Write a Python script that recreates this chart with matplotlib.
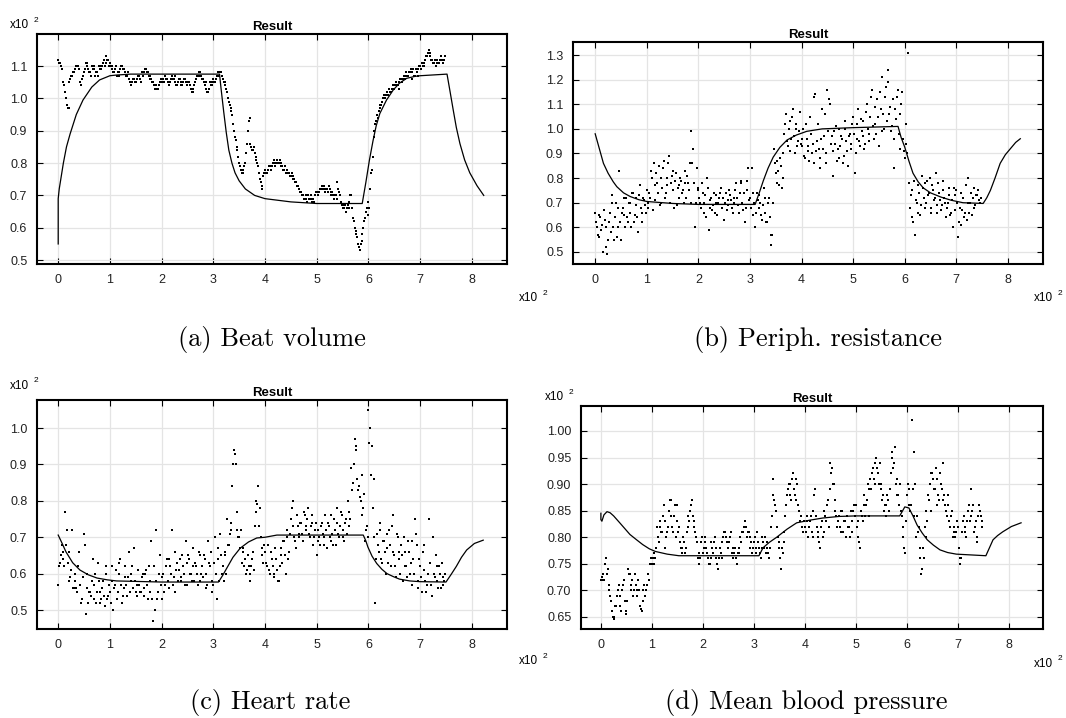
import numpy as np
import matplotlib
matplotlib.use("Agg")
import matplotlib.pyplot as plt

# measured samples, 30 per x-unit (x10^2), from 0 to 7.5
beat_pts = [
    1.12, 1.11, 1.09, 1.05, 1.02, 0.98, 0.97, 1.06, 1.07, 1.08, 1.09, 1.10, 1.09, 1.04, 1.06,
    1.08, 1.11, 1.10, 1.08, 1.07, 1.09, 1.10, 1.08, 1.07, 1.10, 1.09, 1.11, 1.10, 1.13, 1.12,
    1.11, 1.10, 1.08, 1.09, 1.07, 1.08, 1.09, 1.10, 1.09, 1.08, 1.07, 1.06, 1.04, 1.05, 1.06,
    1.05, 1.06, 1.07, 1.05, 1.07, 1.08, 1.09, 1.08, 1.07, 1.06, 1.05, 1.03, 1.04, 1.03, 1.05,
    1.05, 1.06, 1.07, 1.06, 1.04, 1.05, 1.07, 1.06, 1.05, 1.04, 1.06, 1.05, 1.04, 1.06, 1.05,
    1.04, 1.05, 1.03, 1.02, 1.04, 1.06, 1.07, 1.08, 1.07, 1.06, 1.04, 1.03, 1.02, 1.05, 1.04,
    1.06, 1.05, 1.07, 1.08, 1.08, 1.07, 1.05, 1.04, 1.02, 0.99, 0.97, 0.95, 0.90, 0.87, 0.84,
    0.80, 0.78, 0.77, 0.79, 0.83, 0.90, 0.94, 0.85, 0.84, 0.83, 0.81, 0.79, 0.75, 0.73, 0.76,
    0.78, 0.77, 0.78, 0.79, 0.79, 0.80, 0.79, 0.81, 0.80, 0.80, 0.79, 0.78, 0.77, 0.78, 0.77,
    0.76, 0.76, 0.75, 0.74, 0.73, 0.72, 0.71, 0.70, 0.69, 0.69, 0.70, 0.69, 0.68, 0.69, 0.70,
    0.71, 0.70, 0.72, 0.73, 0.72, 0.71, 0.72, 0.73, 0.70, 0.71, 0.69, 0.70, 0.74, 0.71, 0.68,
    0.67, 0.66, 0.65, 0.67, 0.68, 0.70, 0.63, 0.60, 0.58, 0.55, 0.53, 0.56, 0.60, 0.63, 0.66,
    0.68, 0.72, 0.78, 0.88, 0.92, 0.95, 0.96, 0.98, 0.99, 1.01, 1.01, 1.02, 1.03, 1.02, 1.04,
    1.03, 1.05, 1.04, 1.03, 1.06, 1.06, 1.07, 1.08, 1.07, 1.08, 1.06, 1.09, 1.07, 1.08, 1.07,
    1.10, 1.11, 1.10, 1.12, 1.13, 1.15, 1.14, 1.12, 1.11, 1.10, 1.12, 1.11, 1.13, 1.12, 1.12,
]
# the samples that lie between the ones above
beat_pts_mid = [
    1.11, 1.10, 1.05, 1.04, 1.00, 0.97, 1.05, 1.07, 1.08, 1.09, 1.10, 1.10, 1.05, 1.04, 1.07,
    1.09, 1.11, 1.09, 1.08, 1.10, 1.09, 1.07, 1.08, 1.10, 1.09, 1.10, 1.12, 1.11, 1.12, 1.10,
    1.10, 1.09, 1.08, 1.10, 1.08, 1.07, 1.10, 1.09, 1.08, 1.07, 1.08, 1.05, 1.05, 1.06, 1.05,
    1.06, 1.07, 1.06, 1.08, 1.08, 1.09, 1.08, 1.07, 1.06, 1.05, 1.04, 1.04, 1.03, 1.04, 1.06,
    1.06, 1.05, 1.06, 1.05, 1.05, 1.06, 1.06, 1.07, 1.04, 1.05, 1.06, 1.04, 1.05, 1.06, 1.04,
    1.05, 1.04, 1.02, 1.03, 1.05, 1.07, 1.08, 1.07, 1.06, 1.05, 1.05, 1.02, 1.03, 1.04, 1.05,
    1.05, 1.06, 1.08, 1.07, 1.08, 1.06, 1.05, 1.03, 1.00, 0.98, 0.96, 0.92, 0.88, 0.85, 0.82,
    0.79, 0.77, 0.78, 0.80, 0.86, 0.93, 0.86, 0.84, 0.85, 0.82, 0.80, 0.77, 0.74, 0.72, 0.77,
    0.77, 0.78, 0.79, 0.78, 0.80, 0.81, 0.80, 0.80, 0.81, 0.79, 0.78, 0.79, 0.78, 0.77, 0.76,
    0.77, 0.75, 0.74, 0.73, 0.72, 0.71, 0.70, 0.69, 0.70, 0.68, 0.69, 0.70, 0.69, 0.68, 0.71,
    0.70, 0.71, 0.72, 0.72, 0.73, 0.72, 0.71, 0.72, 0.71, 0.70, 0.70, 0.69, 0.72, 0.70, 0.67,
    0.66, 0.67, 0.66, 0.66, 0.70, 0.66, 0.62, 0.59, 0.57, 0.54, 0.55, 0.58, 0.62, 0.65, 0.64,
    0.66, 0.77, 0.82, 0.90, 0.93, 0.94, 0.97, 0.98, 1.00, 1.00, 1.02, 1.01, 1.02, 1.03, 1.03,
    1.04, 1.04, 1.05, 1.06, 1.05, 1.07, 1.06, 1.07, 1.08, 1.09, 1.08, 1.07, 1.09, 1.09, 1.10,
    1.09, 1.10, 1.11, 1.13, 1.14, 1.13, 1.12, 1.11, 1.12, 1.11, 1.11, 1.12, 1.12, 1.11, 1.13,
]
beat_curve_x = [0, 0, 0.02, 0.05, 0.1, 0.16, 0.23, 0.35, 0.48, 0.65, 0.8, 1.0, 1.12, 1.4, 2.0,
                3.12, 3.15, 3.2, 3.25, 3.3, 3.36, 3.42, 3.5, 3.62, 3.8, 4.0, 4.5, 5.0, 5.88, 5.95,
                6.02, 6.09, 6.15, 6.22, 6.35, 6.48, 6.6, 6.74, 6.9, 7.0, 7.52, 7.58, 7.64, 7.7,
                7.77, 7.86, 7.96, 8.1, 8.23]
beat_curve_y = [0.55, 0.69, 0.72, 0.75, 0.80, 0.85, 0.89, 0.95, 0.995, 1.035, 1.057, 1.07, 1.072,
                1.075, 1.075, 1.075, 1.03, 0.96, 0.895, 0.84, 0.80, 0.77, 0.745, 0.72, 0.70, 0.69,
                0.68, 0.675, 0.675, 0.74, 0.81, 0.87, 0.915, 0.953, 0.995, 1.026, 1.047, 1.062,
                1.068, 1.07, 1.075, 1.02, 0.964, 0.91, 0.86, 0.81, 0.77, 0.73, 0.70]

resist_pts = [
    0.66, 0.60, 0.56, 0.64, 0.61, 0.67, 0.52, 0.49, 0.62, 0.58, 0.73, 0.55, 0.70, 0.60, 0.83,
    0.55, 0.68, 0.65, 0.72, 0.62, 0.70, 0.60, 0.74, 0.65, 0.72, 0.58, 0.77, 0.66, 0.72, 0.69,
    0.75, 0.68, 0.72, 0.80, 0.86, 0.71, 0.78, 0.85, 0.70, 0.76, 0.87, 0.74, 0.80, 0.89, 0.78,
    0.83, 0.68, 0.82, 0.76, 0.72, 0.79, 0.75, 0.83, 0.72, 0.78, 0.86, 0.99, 0.92, 0.60, 0.84,
    0.75, 0.70, 0.78, 0.66, 0.73, 0.80, 0.59, 0.71, 0.67, 0.74, 0.70, 0.65, 0.72, 0.76, 0.68,
    0.63, 0.74, 0.69, 0.75, 0.71, 0.66, 0.72, 0.78, 0.69, 0.74, 0.79, 0.67, 0.62, 0.75, 0.84,
    0.72, 0.84, 0.65, 0.60, 0.74, 0.68, 0.70, 0.63, 0.76, 0.66, 0.62, 0.72, 0.53, 0.57, 0.92,
    0.82, 0.87, 0.77, 0.85, 0.80, 0.98, 1.06, 0.93, 1.03, 0.96, 1.08, 0.90, 1.00, 0.95, 1.07,
    0.93, 1.00, 0.88, 0.96, 0.91, 1.05, 0.90, 0.86, 1.14, 0.95, 0.92, 0.84, 1.08, 0.97, 0.90,
    1.16, 1.12, 0.94, 0.81, 0.99, 1.01, 0.92, 0.88, 0.97, 0.86, 1.03, 0.95, 0.85, 0.98, 0.92,
    1.05, 0.82, 0.96, 1.08, 0.93, 0.99, 1.03, 0.94, 1.10, 0.98, 1.05, 1.16, 0.96, 1.02, 1.12,
    0.93, 1.08, 1.21, 1.00, 1.17, 1.24, 1.06, 0.99, 1.12, 0.84, 1.04, 1.16, 0.92, 1.10, 0.96,
    0.88, 0.94, 1.31, 0.68, 0.75, 0.62, 0.57, 0.70, 0.77, 0.65, 0.81, 0.72, 0.68, 0.79, 0.74,
    0.66, 0.77, 0.71, 0.82, 0.69, 0.74, 0.67, 0.79, 0.72, 0.64, 0.70, 0.76, 0.66, 0.60, 0.73,
    0.75, 0.56, 0.68, 0.61, 0.72, 0.66, 0.63, 0.80, 0.70, 0.65, 0.76, 0.69, 0.73, 0.71, 0.70,
]
resist_pts_mid = [
    0.62, 0.57, 0.65, 0.59, 0.50, 0.63, 0.60, 0.55, 0.66, 0.70, 0.60, 0.64, 0.56, 0.68, 0.62,
    0.66, 0.72, 0.60, 0.64, 0.70, 0.66, 0.74, 0.62, 0.69, 0.64, 0.73, 0.68, 0.62, 0.71, 0.66,
    0.70, 0.74, 0.83, 0.67, 0.77, 0.82, 0.74, 0.69, 0.80, 0.84, 0.72, 0.77, 0.86, 0.70, 0.81,
    0.75, 0.79, 0.69, 0.77, 0.80, 0.74, 0.70, 0.78, 0.81, 0.75, 0.70, 0.86, 0.78, 0.70, 0.76,
    0.72, 0.68, 0.74, 0.70, 0.64, 0.76, 0.68, 0.72, 0.69, 0.66, 0.73, 0.70, 0.74, 0.68, 0.72,
    0.70, 0.67, 0.71, 0.73, 0.68, 0.70, 0.75, 0.72, 0.66, 0.78, 0.70, 0.74, 0.68, 0.79, 0.71,
    0.68, 0.74, 0.70, 0.66, 0.71, 0.73, 0.65, 0.69, 0.72, 0.62, 0.70, 0.64, 0.57, 0.70, 0.86,
    0.78, 0.83, 0.88, 0.76, 0.90, 1.02, 0.95, 1.00, 0.91, 1.05, 0.97, 1.02, 0.93, 0.99, 0.94,
    0.96, 0.89, 1.02, 0.93, 0.87, 0.98, 0.94, 1.13, 0.91, 1.02, 0.88, 0.96, 0.92, 1.06, 0.86,
    0.99, 1.10, 0.97, 0.91, 0.94, 0.87, 1.00, 0.93, 0.96, 0.89, 1.00, 0.91, 0.97, 0.94, 1.02,
    0.98, 0.90, 1.02, 0.95, 1.04, 0.97, 0.92, 1.07, 1.00, 0.95, 1.13, 1.01, 1.09, 0.98, 1.05,
    1.15, 0.99, 1.06, 1.13, 1.03, 1.19, 1.09, 1.01, 0.96, 1.08, 1.13, 0.98, 1.06, 1.15, 0.91,
    1.02, 0.90, 0.78, 0.73, 0.64, 0.79, 0.71, 0.66, 0.74, 0.69, 0.76, 0.78, 0.70, 0.73, 0.80,
    0.68, 0.75, 0.72, 0.66, 0.78, 0.71, 0.69, 0.75, 0.70, 0.68, 0.73, 0.65, 0.71, 0.76, 0.67,
    0.70, 0.62, 0.74, 0.67, 0.64, 0.77, 0.70, 0.66, 0.74, 0.72, 0.68, 0.73, 0.75, 0.70, 0.72,
]
resist_curve_x = [0, 0.08, 0.16, 0.25, 0.35, 0.42, 0.55, 0.68, 0.85, 1.0, 1.5, 2.0, 3.1, 3.18,
                  3.26, 3.35, 3.45, 3.58, 3.72, 3.9, 4.1, 4.4, 5.0, 5.87, 5.93, 6.0, 6.08, 6.16,
                  6.26, 6.36, 6.5, 6.7, 6.9, 7.13, 7.52, 7.59, 7.66, 7.75, 7.85, 7.95, 8.05, 8.15,
                  8.24]
resist_curve_y = [0.98, 0.92, 0.86, 0.82, 0.785, 0.765, 0.74, 0.725, 0.712, 0.705, 0.697, 0.693,
                  0.693, 0.74, 0.79, 0.84, 0.885, 0.925, 0.955, 0.975, 0.99, 1.0, 1.005, 1.01,
                  0.965, 0.926, 0.87, 0.82, 0.785, 0.76, 0.74, 0.723, 0.71, 0.70, 0.697, 0.72,
                  0.75, 0.80, 0.86, 0.895, 0.92, 0.945, 0.96]

rate_pts = [
    0.57, 0.63, 0.68, 0.64, 0.77, 0.72, 0.66, 0.59, 0.72, 0.56, 0.58, 0.55, 0.66, 0.52, 0.53,
    0.71, 0.49, 0.60, 0.55, 0.54, 0.64, 0.57, 0.52, 0.63, 0.55, 0.53, 0.58, 0.51, 0.62, 0.54,
    0.55, 0.62, 0.50, 0.57, 0.53, 0.60, 0.64, 0.52, 0.56, 0.59, 0.54, 0.66, 0.58, 0.62, 0.67,
    0.55, 0.54, 0.57, 0.55, 0.60, 0.56, 0.61, 0.53, 0.58, 0.69, 0.47, 0.50, 0.72, 0.55, 0.65,
    0.53, 0.60, 0.57, 0.64, 0.56, 0.62, 0.72, 0.59, 0.55, 0.63, 0.61, 0.58, 0.65, 0.60, 0.69,
    0.57, 0.64, 0.60, 0.67, 0.58, 0.62, 0.57, 0.65, 0.60, 0.59, 0.64, 0.56, 0.69, 0.62, 0.58,
    0.57, 0.70, 0.53, 0.64, 0.71, 0.60, 0.58, 0.65, 0.75, 0.68, 0.72, 0.84, 0.94, 0.90, 0.77,
    0.70, 0.72, 0.66, 0.62, 0.60, 0.65, 0.58, 0.62, 0.66, 0.73, 0.80, 0.84, 0.78, 0.67, 0.63,
    0.66, 0.62, 0.68, 0.60, 0.64, 0.59, 0.67, 0.61, 0.58, 0.65, 0.63, 0.69, 0.60, 0.72, 0.66,
    0.75, 0.80, 0.70, 0.67, 0.73, 0.71, 0.74, 0.69, 0.76, 0.72, 0.78, 0.70, 0.74, 0.68, 0.72,
    0.65, 0.72, 0.68, 0.74, 0.70, 0.76, 0.67, 0.73, 0.69, 0.71, 0.75, 0.68, 0.74, 0.70, 0.77,
    0.72, 0.69, 0.75, 0.80, 0.73, 0.89, 0.85, 0.97, 0.94, 0.83, 0.81, 0.87, 0.78, 0.69, 0.73,
    1.05, 1.00, 0.95, 0.86, 0.52, 0.71, 0.66, 0.74, 0.63, 0.69, 0.60, 0.67, 0.72, 0.62, 0.76,
    0.65, 0.59, 0.70, 0.64, 0.68, 0.58, 0.66, 0.62, 0.69, 0.60, 0.57, 0.64, 0.75, 0.68, 0.56,
    0.62, 0.55, 0.68, 0.58, 0.57, 0.75, 0.63, 0.54, 0.60, 0.65, 0.58, 0.62, 0.56, 0.59, 0.58,
]
rate_pts_mid = [
    0.62, 0.65, 0.66, 0.62, 0.68, 0.63, 0.58, 0.61, 0.56, 0.60, 0.56, 0.62, 0.57, 0.52, 0.59,
    0.68, 0.56, 0.52, 0.55, 0.58, 0.53, 0.60, 0.55, 0.58, 0.52, 0.56, 0.54, 0.60, 0.53, 0.57,
    0.52, 0.58, 0.56, 0.61, 0.55, 0.63, 0.57, 0.54, 0.62, 0.57, 0.59, 0.55, 0.60, 0.56, 0.58,
    0.57, 0.61, 0.55, 0.59, 0.54, 0.60, 0.57, 0.62, 0.55, 0.53, 0.62, 0.58, 0.53, 0.60, 0.57,
    0.59, 0.55, 0.62, 0.58, 0.64, 0.60, 0.57, 0.66, 0.61, 0.58, 0.64, 0.59, 0.62, 0.57, 0.63,
    0.65, 0.60, 0.58, 0.62, 0.63, 0.60, 0.66, 0.58, 0.62, 0.65, 0.60, 0.57, 0.63, 0.66, 0.55,
    0.63, 0.60, 0.67, 0.58, 0.65, 0.62, 0.66, 0.60, 0.68, 0.71, 0.74, 0.90, 0.93, 0.72, 0.70,
    0.67, 0.63, 0.67, 0.64, 0.61, 0.62, 0.60, 0.64, 0.61, 0.77, 0.79, 0.73, 0.70, 0.65, 0.68,
    0.63, 0.68, 0.61, 0.66, 0.62, 0.60, 0.64, 0.58, 0.62, 0.67, 0.69, 0.65, 0.70, 0.64, 0.71,
    0.78, 0.73, 0.69, 0.76, 0.70, 0.74, 0.71, 0.77, 0.73, 0.75, 0.71, 0.73, 0.76, 0.70, 0.74,
    0.69, 0.70, 0.73, 0.71, 0.68, 0.72, 0.74, 0.70, 0.76, 0.68, 0.72, 0.78, 0.71, 0.73, 0.76,
    0.70, 0.74, 0.71, 0.77, 0.75, 0.83, 0.90, 0.95, 0.86, 0.84, 0.80, 0.76, 0.82, 0.72, 0.70,
    0.96, 0.87, 0.78, 0.70, 0.64, 0.68, 0.72, 0.64, 0.69, 0.66, 0.71, 0.63, 0.68, 0.73, 0.66,
    0.62, 0.71, 0.66, 0.60, 0.65, 0.70, 0.62, 0.59, 0.66, 0.63, 0.69, 0.60, 0.71, 0.58, 0.64,
    0.59, 0.66, 0.61, 0.55, 0.60, 0.63, 0.57, 0.70, 0.59, 0.62, 0.56, 0.60, 0.63, 0.57, 0.60,
]
rate_curve_x = [0, 0.07, 0.15, 0.28, 0.42, 0.58, 0.75, 0.95, 1.13, 2.0, 3.1, 3.18, 3.26, 3.38,
                3.52, 3.68, 3.84, 4.0, 4.23, 5.9, 5.95, 5.99, 6.07, 6.16, 6.26, 6.36, 6.48, 6.6,
                6.8, 7.0, 7.5, 7.6, 7.7, 7.8, 7.9, 8.05, 8.22]
rate_curve_y = [0.706, 0.685, 0.66, 0.63, 0.61, 0.597, 0.588, 0.583, 0.58, 0.577, 0.577, 0.595,
                0.615, 0.645, 0.67, 0.687, 0.698, 0.70, 0.706, 0.706, 0.69, 0.673, 0.648, 0.628,
                0.612, 0.60, 0.592, 0.585, 0.58, 0.578, 0.577, 0.598, 0.62, 0.645, 0.665, 0.683,
                0.692]

press_pts = [
    0.72, 0.73, 0.72, 0.76, 0.74, 0.71, 0.68, 0.65, 0.645, 0.67, 0.70, 0.69, 0.66, 0.71, 0.68,
    0.655, 0.74, 0.73, 0.71, 0.69, 0.73, 0.70, 0.72, 0.67, 0.66, 0.70, 0.69, 0.71, 0.73, 0.75,
    0.75, 0.77, 0.76, 0.82, 0.79, 0.83, 0.81, 0.86, 0.78, 0.81, 0.85, 0.87, 0.82, 0.84, 0.80,
    0.86, 0.82, 0.78, 0.77, 0.79, 0.78, 0.82, 0.83, 0.86, 0.84, 0.82, 0.80, 0.76, 0.75, 0.79,
    0.77, 0.80, 0.78, 0.76, 0.75, 0.79, 0.77, 0.80, 0.76, 0.74, 0.78, 0.76, 0.80, 0.81, 0.79,
    0.78, 0.80, 0.77, 0.76, 0.78, 0.75, 0.77, 0.80, 0.81, 0.82, 0.83, 0.80, 0.81, 0.78, 0.77,
    0.79, 0.77, 0.81, 0.78, 0.76, 0.80, 0.78, 0.77, 0.79, 0.76, 0.82, 0.91, 0.87, 0.85, 0.80,
    0.78, 0.74, 0.77, 0.81, 0.86, 0.89, 0.90, 0.87, 0.92, 0.88, 0.91, 0.86, 0.83, 0.84, 0.81,
    0.82, 0.84, 0.80, 0.83, 0.81, 0.85, 0.89, 0.82, 0.80, 0.78, 0.83, 0.81, 0.84, 0.86, 0.82,
    0.94, 0.93, 0.90, 0.87, 0.82, 0.84, 0.81, 0.85, 0.83, 0.80, 0.84, 0.82, 0.85, 0.81, 0.86,
    0.86, 0.83, 0.79, 0.85, 0.83, 0.88, 0.86, 0.90, 0.84, 0.89, 0.93, 0.90, 0.95, 0.92, 0.94,
    0.90, 0.88, 0.86, 0.84, 0.87, 0.89, 0.96, 0.93, 0.97, 0.91, 0.88, 0.90, 0.84, 0.80, 0.77,
    0.88, 0.86, 0.85, 1.02, 0.96, 0.90, 0.84, 0.82, 0.78, 0.74, 0.76, 0.80, 0.83, 0.87, 0.85,
    0.92, 0.89, 0.93, 0.91, 0.87, 0.90, 0.94, 0.88, 0.85, 0.86, 0.83, 0.84, 0.80, 0.82, 0.81,
    0.82, 0.75, 0.76, 0.83, 0.81, 0.80, 0.85, 0.83, 0.89, 0.86, 0.82, 0.79, 0.84, 0.85, 0.83,
]
press_pts_mid = [
    0.725, 0.72, 0.75, 0.73, 0.70, 0.69, 0.66, 0.65, 0.67, 0.69, 0.71, 0.67, 0.70, 0.72, 0.66,
    0.68, 0.73, 0.70, 0.72, 0.70, 0.71, 0.69, 0.70, 0.665, 0.68, 0.71, 0.70, 0.73, 0.72, 0.76,
    0.76, 0.75, 0.78, 0.80, 0.82, 0.81, 0.84, 0.83, 0.80, 0.82, 0.87, 0.84, 0.81, 0.86, 0.83,
    0.81, 0.79, 0.78, 0.80, 0.77, 0.81, 0.84, 0.85, 0.87, 0.83, 0.81, 0.79, 0.77, 0.76, 0.80,
    0.78, 0.79, 0.77, 0.75, 0.76, 0.78, 0.79, 0.78, 0.75, 0.76, 0.77, 0.79, 0.81, 0.80, 0.78,
    0.79, 0.81, 0.78, 0.77, 0.76, 0.77, 0.78, 0.79, 0.81, 0.83, 0.82, 0.81, 0.80, 0.79, 0.78,
    0.80, 0.78, 0.79, 0.77, 0.78, 0.79, 0.80, 0.78, 0.77, 0.78, 0.84, 0.88, 0.86, 0.82, 0.79,
    0.76, 0.78, 0.79, 0.84, 0.88, 0.90, 0.88, 0.91, 0.89, 0.87, 0.90, 0.85, 0.84, 0.82, 0.83,
    0.81, 0.83, 0.82, 0.84, 0.80, 0.88, 0.84, 0.81, 0.79, 0.82, 0.80, 0.85, 0.83, 0.87, 0.89,
    0.92, 0.90, 0.85, 0.84, 0.83, 0.82, 0.85, 0.81, 0.83, 0.84, 0.82, 0.80, 0.83, 0.85, 0.84,
    0.82, 0.80, 0.78, 0.84, 0.86, 0.84, 0.87, 0.89, 0.91, 0.92, 0.91, 0.94, 0.93, 0.90, 0.89,
    0.87, 0.85, 0.86, 0.88, 0.85, 0.92, 0.95, 0.94, 0.90, 0.88, 0.86, 0.85, 0.82, 0.78, 0.83,
    0.90, 0.89, 0.86, 0.89, 0.84, 0.80, 0.81, 0.76, 0.73, 0.78, 0.82, 0.85, 0.88, 0.90, 0.92,
    0.91, 0.89, 0.86, 0.88, 0.92, 0.89, 0.87, 0.86, 0.84, 0.88, 0.82, 0.85, 0.81, 0.80, 0.83,
    0.78, 0.76, 0.81, 0.84, 0.82, 0.83, 0.86, 0.84, 0.85, 0.81, 0.83, 0.80, 0.86, 0.84, 0.82,
]
press_curve_x = [0, 0, 0.02, 0.06, 0.12, 0.18, 0.25, 0.37, 0.47, 0.57, 0.7, 0.82, 0.95, 1.07, 1.3,
                 1.53, 3.1, 3.18, 3.3, 3.45, 3.65, 3.84, 4.1, 4.35, 4.67, 5.0, 5.86, 5.96, 6.04,
                 6.12, 6.2, 6.3, 6.4, 6.52, 6.65, 6.8, 6.97, 7.55, 7.62, 7.69, 7.78, 7.88, 8.05,
                 8.24]
press_curve_y = [0.845, 0.833, 0.83, 0.842, 0.848, 0.846, 0.84, 0.827, 0.816, 0.805, 0.795,
                 0.786, 0.778, 0.773, 0.768, 0.765, 0.765, 0.78, 0.79, 0.80, 0.815, 0.827, 0.832,
                 0.836, 0.839, 0.84, 0.84, 0.857, 0.855, 0.84, 0.823, 0.808, 0.795, 0.785, 0.776,
                 0.771, 0.768, 0.765, 0.78, 0.795, 0.803, 0.81, 0.82, 0.827]

x_ticks = [0, 1, 2, 3, 4, 5, 6, 7, 8]
captions = ["(a) Beat volume", "(b) Periph. resistance", "(c) Heart rate", "(d) Mean blood pressure"]

W, H = 1066, 718
fig = plt.figure(figsize=(W / 100, H / 100), dpi=100)
sans = "Liberation Sans"


def px_axes(l, t, r, b):
    return fig.add_axes([l / W, 1 - b / H, (r - l) / W, (b - t) / H])


def mult_label(x, y):
    # the "x10 2" exponent marker
    fig.text(x / W, 1 - y / H, "x10", fontsize=8.5, family=sans, va="center", ha="left")
    fig.text((x + 24) / W, 1 - (y - 5) / H, "2", fontsize=6, family=sans, va="center", ha="left")


def draw(ax, pts, pts_mid, cx, cy, xlim, ylim, yticks, ylabels):
    xs = np.arange(len(pts)) / 30
    xs_mid = (np.arange(len(pts_mid)) + 0.5) / 30
    ax.plot(xs, pts, "s", ms=1.6, mew=0, color="black", zorder=3)
    ax.plot(xs_mid, pts_mid, "s", ms=1.6, mew=0, color="black", zorder=3)
    ax.plot(cx, cy, color="black", lw=0.9, zorder=3)
    ax.set_xlim(*xlim)
    ax.set_ylim(*ylim)
    ax.set_xticks(x_ticks)
    ax.set_xticklabels([str(t) for t in x_ticks])
    ax.set_yticks(yticks)
    ax.set_yticklabels(ylabels)
    ax.grid(True, color="#e4e4e4", lw=0.9, zorder=0)
    ax.set_axisbelow(True)
    ax.tick_params(direction="in", length=4, width=0.8, top=True, right=True,
                   labelsize=9, pad=7, labelcolor="#222222")
    for lab in ax.get_xticklabels() + ax.get_yticklabels():
        lab.set_family(sans)
    for s in ax.spines.values():
        s.set_linewidth(1.5)
    ax.set_title("Result", fontsize=9.5, fontweight="bold", family=sans, pad=3)


ax_a = px_axes(37, 34, 507, 264)
draw(ax_a, beat_pts, beat_pts_mid, beat_curve_x, beat_curve_y, (-0.41, 8.68), (0.488, 1.199),
     [0.5, 0.6, 0.7, 0.8, 0.9, 1.0, 1.1], ["0.5", "0.6", "0.7", "0.8", "0.9", "1.0", "1.1"])

ax_b = px_axes(573, 42, 1043, 264)
draw(ax_b, resist_pts, resist_pts_mid, resist_curve_x, resist_curve_y, (-0.43, 8.68),
     (0.451, 1.353), [0.5, 0.6, 0.7, 0.8, 0.9, 1.0, 1.1, 1.2, 1.3],
     ["0.5", "0.6", "0.7", "0.8", "0.9", "1.0", "1.1", "1.2", "1.3"])

ax_c = px_axes(37, 400, 507, 629)
draw(ax_c, rate_pts, rate_pts_mid, rate_curve_x, rate_curve_y, (-0.41, 8.68), (0.448, 1.077),
     [0.5, 0.6, 0.7, 0.8, 0.9, 1.0], ["0.5", "0.6", "0.7", "0.8", "0.9", "1.0"])

ax_d = px_axes(581, 406, 1043, 629)
draw(ax_d, press_pts, press_pts_mid, press_curve_x, press_curve_y, (-0.39, 8.67),
     (0.627, 1.047), [0.65, 0.70, 0.75, 0.80, 0.85, 0.90, 0.95, 1.00],
     ["0.65", "0.70", "0.75", "0.80", "0.85", "0.90", "0.95", "1.00"])

# exponent markers
mult_label(10, 25)
mult_label(10, 386)
mult_label(545, 397)
mult_label(519, 298)
mult_label(1034, 298)
mult_label(519, 661)
mult_label(1034, 664)

# sub-figure captions
cap_pos = [(272, 340), (818, 340), (270, 703), (806, 703)]
for txt, (cx, cy) in zip(captions, cap_pos):
    fig.text(cx / W, 1 - cy / H, txt, fontsize=19, family="cmr10", ha="center", va="center")

fig.savefig("out.png", dpi=100)
